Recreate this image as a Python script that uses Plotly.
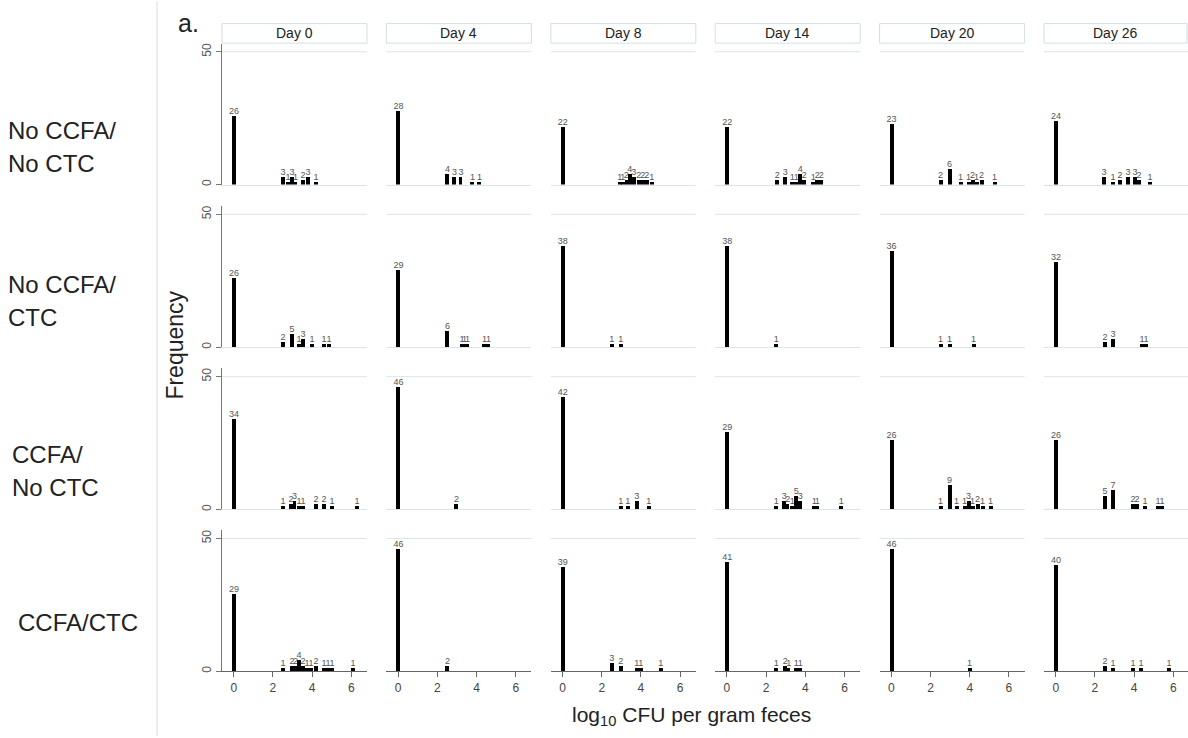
import plotly.graph_objects as go

W, H = 1188, 738
FONT = "Liberation Sans, Arial, sans-serif"

days = ["Day 0", "Day 4", "Day 8", "Day 14", "Day 20", "Day 26"]
group_lines = [["No CCFA/", "No CTC"], ["No CCFA/", "CTC"], ["CCFA/", "No CTC"], ["CCFA/CTC"]]
x_ticks = [0, 2, 4, 6]
y_ticks = [0, 50]

# Histogram bins (log10 CFU per gram feces) and frequencies, one list per day
noccfa_noctc_bins = [
    [0, 2.5, 2.75, 2.95, 3.15, 3.55, 3.8, 4.2],
    [0, 2.5, 2.85, 3.2, 3.8, 4.15],
    [0, 2.9, 3.05, 3.25, 3.45, 3.65, 3.88, 4.1, 4.3, 4.55],
    [0, 2.55, 2.95, 3.35, 3.55, 3.75, 3.95, 4.4, 4.6, 4.8],
    [0, 2.5, 2.95, 3.55, 3.95, 4.15, 4.35, 4.6, 5.25],
    [0, 2.45, 2.9, 3.3, 3.7, 4.05, 4.25, 4.8],
]
noccfa_noctc_freq = [
    [26, 3, 1, 3, 1, 2, 3, 1],
    [28, 4, 3, 3, 1, 1],
    [22, 1, 1, 2, 4, 3, 2, 2, 2, 1],
    [22, 2, 3, 1, 1, 4, 2, 1, 2, 2],
    [23, 2, 6, 1, 1, 2, 1, 2, 1],
    [24, 3, 1, 2, 3, 3, 2, 1],
]

noccfa_ctc_bins = [
    [0, 2.5, 2.95, 3.35, 3.55, 4.0, 4.6, 4.85],
    [0, 2.5, 3.25, 3.4, 3.55, 4.4, 4.6],
    [0, 2.5, 2.95],
    [0, 2.5],
    [0, 2.5, 2.95, 4.2],
    [0, 2.5, 2.9, 4.4, 4.6],
]
noccfa_ctc_freq = [
    [26, 2, 5, 1, 3, 1, 1, 1],
    [29, 6, 1, 1, 1, 1, 1],
    [38, 1, 1],
    [38, 1],
    [36, 1, 1, 1],
    [32, 2, 3, 1, 1],
]

ccfa_noctc_bins = [
    [0, 2.5, 2.9, 3.1, 3.35, 3.55, 4.2, 4.6, 5.0, 6.3],
    [0, 2.95],
    [0, 2.95, 3.35, 3.8, 4.4],
    [0, 2.5, 2.9, 3.1, 3.35, 3.55, 3.75, 4.45, 4.62, 5.85],
    [0, 2.5, 2.95, 3.35, 3.75, 3.95, 4.15, 4.4, 4.65, 5.05],
    [0, 2.5, 2.9, 3.95, 4.15, 4.55, 5.2, 5.4],
]
ccfa_noctc_freq = [
    [34, 1, 2, 3, 1, 1, 2, 2, 1, 1],
    [46, 2],
    [42, 1, 1, 3, 1],
    [29, 1, 3, 2, 1, 5, 3, 1, 1, 1],
    [26, 1, 9, 1, 1, 3, 1, 2, 1, 1],
    [26, 5, 7, 2, 2, 1, 1, 1],
]

ccfa_ctc_bins = [
    [0, 2.5, 2.95, 3.15, 3.35, 3.55, 3.75, 3.95, 4.2, 4.6, 4.8, 5.0, 6.1],
    [0, 2.5],
    [0, 2.5, 2.95, 3.8, 4.0, 5.0],
    [0, 2.5, 2.95, 3.15, 3.55, 3.75],
    [0, 4.0],
    [0, 2.5, 2.9, 3.95, 4.35, 5.8],
]
ccfa_ctc_freq = [
    [29, 1, 2, 2, 4, 2, 1, 1, 2, 1, 1, 1, 1],
    [46, 2],
    [39, 3, 2, 1, 1, 1],
    [41, 1, 2, 1, 1, 1],
    [46, 1],
    [40, 2, 1, 1, 1, 1],
]

all_bins = [noccfa_noctc_bins, noccfa_ctc_bins, ccfa_noctc_bins, ccfa_ctc_bins]
all_freq = [noccfa_noctc_freq, noccfa_ctc_freq, ccfa_noctc_freq, ccfa_ctc_freq]

BAR_W = 0.2
X_MIN = -0.6
PX_PER_UNIT = 19.6
Y_RANGE = [0, 53.1]

# panel geometry in pixels
col_left = [222 + 164.4 * j for j in range(6)]
axis_w = 145
row_zero = [184.3, 347.5, 510.5, 673]
panel_h = 141.6
LIGHT = "#dbe5e8"


def px(x):
    return min(max(x / W, 0.0), 1.0)


def py(y):
    return min(max(1 - y / H, 0.0), 1.0)


fig = go.Figure()
layout = dict(
    width=W, height=H,
    margin=dict(l=0, r=0, t=0, b=0),
    paper_bgcolor="white", plot_bgcolor="white",
    showlegend=False,
    font=dict(family=FONT, color="#222"),
    bargap=0,
)

shapes = []
annotations = []

for r in range(4):
    for c in range(6):
        k = r * 6 + c + 1
        xa = "x" if k == 1 else f"x{k}"
        ya = "y" if k == 1 else f"y{k}"
        xkey = "xaxis" if k == 1 else f"xaxis{k}"
        ykey = "yaxis" if k == 1 else f"yaxis{k}"
        fig.add_trace(go.Bar(
            x=all_bins[r][c], y=all_freq[r][c], width=BAR_W,
            marker=dict(color="black", line=dict(width=0)),
            text=[str(v) for v in all_freq[r][c]],
            textposition="outside", constraintext="none", cliponaxis=False,
            textfont=dict(size=9, color="#555", family=FONT),
            xaxis=xa, yaxis=ya, hoverinfo="skip",
        ))
        bottom = row_zero[r]
        last = r == 3
        right = min(col_left[c] + axis_w, W)
        x_max = X_MIN + (right - col_left[c]) / PX_PER_UNIT
        layout[xkey] = dict(
            domain=[px(col_left[c]), px(right)],
            anchor=ya, range=[X_MIN, x_max], fixedrange=True,
            showgrid=False, zeroline=False,
            showline=True, linecolor="#666" if last else LIGHT, linewidth=1,
            ticks="outside" if last else "", ticklen=5, tickcolor="#666",
            tickvals=x_ticks, showticklabels=last,
            tickfont=dict(size=12, color="#444", family=FONT),
        )
        first = c == 0
        layout[ykey] = dict(
            domain=[py(bottom), py(bottom - panel_h)],
            anchor=xa, range=Y_RANGE, fixedrange=True,
            showgrid=False, zeroline=False,
            showline=first, linecolor="#777", linewidth=1,
            ticks="outside" if first else "", ticklen=5, tickcolor="#777",
            tickvals=y_ticks, showticklabels=first, tickangle=-90,
            tickfont=dict(size=12, color="#555", family=FONT),
        )
        # light plot-region border at the top of each panel
        shapes.append(dict(type="line", xref=f"{xa} domain", yref=ya,
                           x0=0, x1=1, y0=y_ticks[-1], y1=y_ticks[-1],
                           line=dict(color=LIGHT, width=1), layer="below"))

# strip headers
for c, d in enumerate(days):
    s_right = min(col_left[c] + axis_w, W - 1)
    shapes.append(dict(type="rect", xref="paper", yref="paper",
                       x0=px(col_left[c]), x1=px(s_right),
                       y0=py(42.3), y1=py(22.7),
                       line=dict(color="#d3dfe3", width=1), fillcolor="white"))
    annotations.append(dict(text=d, xref="paper", yref="paper",
                            x=px((col_left[c] + s_right) / 2), y=py(32.5),
                            showarrow=False, xanchor="center", yanchor="middle",
                            font=dict(size=14, color="#222", family=FONT)))

# separator between row labels and panels
shapes.append(dict(type="line", xref="paper", yref="paper",
                   x0=px(157), x1=px(157), y0=0, y1=1,
                   line=dict(color="#dcdcdc", width=1)))

# row labels
label_pos = [(6, [130, 163]), (6, [285, 318]), (10, [455, 488]), (16, [624])]
for lines, (lx, ys) in zip(group_lines, label_pos):
    for txt, yy in zip(lines, ys):
        annotations.append(dict(text=txt, xref="paper", yref="paper",
                                x=px(lx), y=py(yy), showarrow=False,
                                xanchor="left", yanchor="middle",
                                font=dict(size=24, color="#222", family=FONT)))

annotations.append(dict(text="Frequency", xref="paper", yref="paper",
                        x=px(175), y=py(346), textangle=-90, showarrow=False,
                        xanchor="center", yanchor="middle",
                        font=dict(size=23, color="#222", family=FONT)))
annotations.append(dict(text="log<sub>10</sub> CFU per gram feces", xref="paper", yref="paper",
                        x=px(691), y=py(718), showarrow=False,
                        xanchor="center", yanchor="middle",
                        font=dict(size=21, color="#222", family=FONT)))
annotations.append(dict(text="a.", xref="paper", yref="paper",
                        x=px(176), y=py(22), showarrow=False,
                        xanchor="left", yanchor="middle",
                        font=dict(size=25, color="#222", family=FONT)))

layout["shapes"] = shapes
layout["annotations"] = annotations
fig.update_layout(**layout)
fig.write_html("out.html")
